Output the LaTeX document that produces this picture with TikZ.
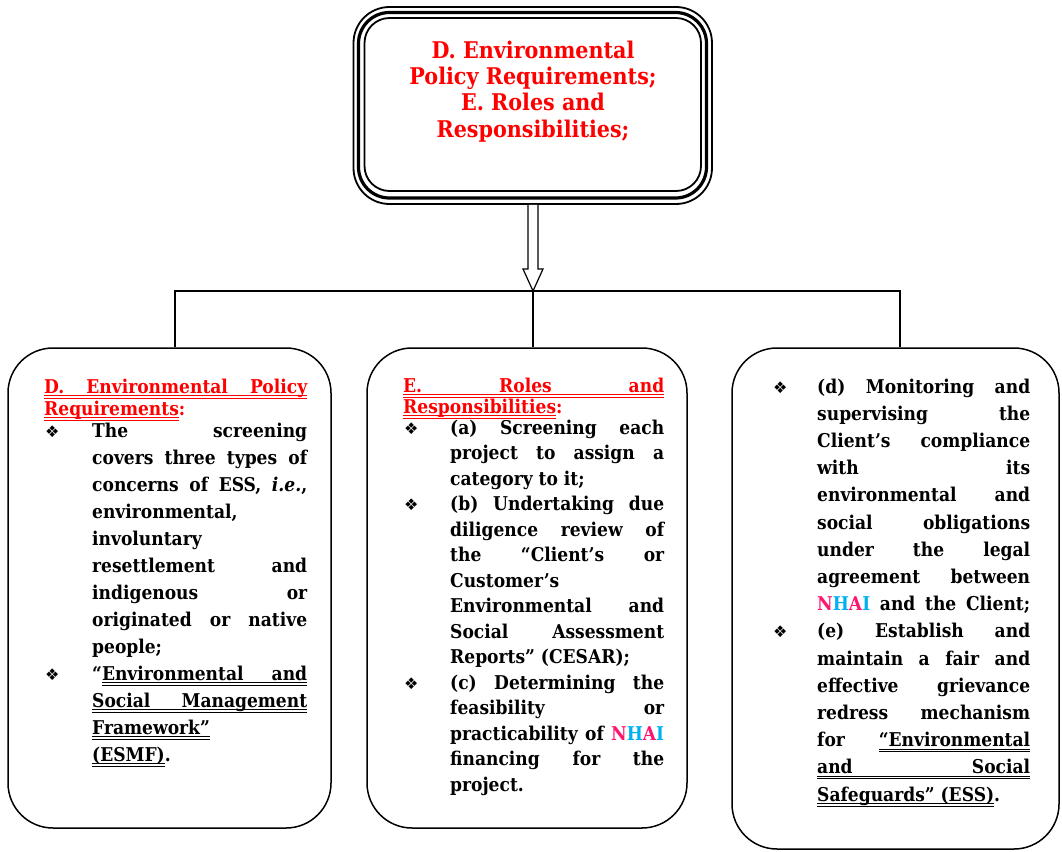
\documentclass[tikz,border=0pt]{standalone}
\usepackage{fontspec}
\usetikzlibrary{calc}
\setmainfont{DejaVu Serif Condensed}[
  BoldFont={DejaVu Serif Condensed Bold},
  BoldItalicFont={DejaVu Serif Condensed Bold Italic},
  ItalicFont={DejaVu Serif Condensed Italic}]
\newfontfamily\dingfont{DejaVu Sans}
\definecolor{nhpink}{RGB}{255,20,110}
\definecolor{nhcyan}{RGB}{0,176,240}

% widths used by the line macros
\newlength\tw   % text column width
\newlength\bi   % bullet indent
\newlength\hw   % heading width
\newsavebox\ubox
\newsavebox\qbox

% double underline, drawn just below the baseline
\newcommand\uu[1]{\sbox\ubox{#1}%
  \rlap{\rule[-2.6pt]{\wd\ubox}{0.7pt}}%
  \rlap{\rule[-5.2pt]{\wd\ubox}{0.7pt}}%
  \usebox\ubox}
\newcommand\bul{{\dingfont\fontsize{16}{16}\selectfont ❖}}
% bullet line, justified
\newcommand\Bj[1]{\noindent\makebox[\bi][l]{\hspace{1pt}\bul}\makebox[\tw][s]{#1}\par}
% continuation line, justified
\newcommand\Jl[1]{\noindent\hspace*{\bi}\makebox[\tw][s]{#1}\par}
% continuation line, flush left
\newcommand\Ll[1]{\noindent\hspace*{\bi}#1\par}
% opening quote followed by an underlined, justified run
\newcommand\Uq[1]{\sbox\qbox{“}“\uu{\makebox[\dimexpr\tw-\wd\qbox\relax][s]{#1}}}
\newcommand\nhai{{\color{nhpink}N}{\color{nhcyan}H}{\color{nhpink}A}{\color{nhcyan}I}}
\newcommand\setbody[1]{\fontsize{19}{#1}\selectfont\bfseries
  \lineskiplimit=-100pt\parskip=0pt\parindent=0pt}

\tikzset{
  branch/.style={draw, line width=1.5pt, rounded corners=45pt, inner sep=0pt},
  frameline/.style={draw, inner sep=0pt},
  tree/.style={line width=1.3pt},
  txt/.style={inner sep=0pt, anchor=base west},
}

\begin{document}
\begin{tikzpicture}[x=1pt, y=-1pt]
\useasboundingbox (0,0) rectangle (1062,851);

% title box with a triple frame
\node[frameline, line width=1.8pt, rounded corners=36pt,
      minimum width=358.5pt, minimum height=197pt] (topOuter) at (532.75,105.5) {};
\node[frameline, line width=3.2pt, rounded corners=31pt,
      minimum width=348pt, minimum height=185.5pt] (top) at (532.5,105.25) {};
\node[frameline, line width=1.8pt, rounded corners=25pt,
      minimum width=336.5pt, minimum height=173pt] (topInner) at (532.75,104.5) {};
\node[inner sep=0pt, anchor=base] (title) at (533,59) {%
  \begin{minipage}[t]{330pt}\centering
  \fontsize{23}{26}\selectfont\bfseries\lineskiplimit=-100pt
  \leavevmode\color{red}%
  D. Environmental\\ Policy Requirements;\\ E. Roles and\\ Responsibilities;
  \end{minipage}};

% three branch boxes
\node[branch, minimum width=323pt, minimum height=480pt] (lbox) at (169.5,588) {};
\node[branch, minimum width=320pt, minimum height=480pt] (mbox) at (527,588) {};
\node[branch, minimum width=327pt, minimum height=501pt] (rbox) at (895.5,598.5) {};

% hollow arrow down to the branching line
\coordinate (hub) at (533,291);
\draw[line width=1.2pt, fill=white, line join=miter]
  ($(topOuter.south -| hub)+(-5,0)$) -- ($(hub)+(-5,-22)$) -- ($(hub)+(-10,-22)$)
  -- (hub) -- ($(hub)+(10,-22)$) -- ($(hub)+(5,-22)$) -- ($(topOuter.south -| hub)+(5,0)$);

% branching lines
\draw[tree] ($(lbox.north)+(5.5,0)$) |- (hub) -| ($(rbox.north)+(4.5,0)$);
\draw[tree] (hub) -- (mbox.north -| hub);

% left box text
\node[txt] (ltext) at (44,393) {%
  \begin{minipage}[t]{263pt}\setbody{22pt}
  \setlength\hw{263pt}\setlength\bi{48pt}\setlength\tw{215pt}%
  \noindent{\color{red}\uu{\makebox[\hw][s]{D. Environmental Policy}}}\par
  \noindent{\color{red}\uu{Requirements}:}\par
  \Bj{The screening}
  \baselineskip=27pt
  \Jl{covers three types of}
  \Jl{concerns of ESS, \textit{i.e.},}
  \Ll{environmental,}
  \Ll{involuntary}
  \Jl{resettlement and}
  \Jl{indigenous or}
  \Jl{originated or native}
  \Ll{people;}
  \Bj{\Uq{Environmental and}}
  \Jl{\uu{\makebox[\tw][s]{Social Management}}}
  \Ll{\uu{Framework”}}
  \Ll{\uu{(ESMF)}.}
  \end{minipage}};

% middle box text
\node[txt] (mtext) at (403,392) {%
  \begin{minipage}[t]{261pt}\setbody{21pt}
  \setlength\hw{261pt}\setlength\bi{47pt}\setlength\tw{214pt}%
  \noindent{\color{red}\uu{\makebox[\hw][s]{E. Roles and}}}\par
  \noindent{\color{red}\uu{Responsibilities}:}\par
  \Bj{(a) Screening each}
  \baselineskip=25.5pt
  \Jl{project to assign a}
  \Ll{category to it;}
  \Bj{(b) Undertaking due}
  \Jl{diligence review of}
  \Jl{the “Client’s or}
  \Ll{Customer’s}
  \Jl{Environmental and}
  \Jl{Social Assessment}
  \Ll{Reports” (CESAR);}
  \Bj{(c) Determining the}
  \Jl{feasibility or}
  \Jl{practicability of \nhai}
  \Jl{financing for the}
  \Ll{project.}
  \end{minipage}};

% right box text
\node[txt] (rtext) at (772,393) {%
  \begin{minipage}[t]{258pt}\setbody{27.2pt}
  \setlength\bi{45pt}\setlength\tw{213pt}%
  \Bj{(d) Monitoring and}
  \Jl{supervising the}
  \Jl{Client’s compliance}
  \Jl{with its}
  \Jl{environmental and}
  \Jl{social obligations}
  \Jl{under the legal}
  \Jl{agreement between}
  \Jl{\nhai{} and the Client;}
  \Bj{(e) Establish and}
  \Jl{maintain a fair and}
  \Jl{effective grievance}
  \Jl{redress mechanism}
  \Jl{for \uu{“Environmental}}
  \Jl{\uu{\makebox[\tw][s]{and Social}}}
  \Ll{\uu{Safeguards” (ESS)}.}
  \end{minipage}};
\end{tikzpicture}
\end{document}
